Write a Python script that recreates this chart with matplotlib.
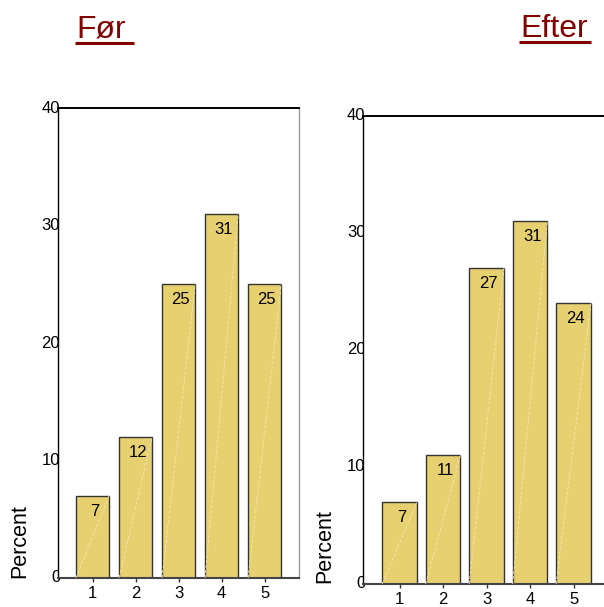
import matplotlib
matplotlib.use("Agg")
import matplotlib.pyplot as plt
from matplotlib.lines import Line2D
from matplotlib.transforms import blended_transform_factory, ScaledTranslation

plt.rcParams['font.family'] = ['Liberation Sans', 'DejaVu Sans']

categories = [1, 2, 3, 4, 5]
before_pct = [7, 12, 25, 31, 25]
after_pct = [7, 11, 27, 31, 24]
yticks = [0, 10, 20, 30, 40]
titles = ["Før", "Efter"]
ylabel = "Percent"

bar_color = '#E7D070'
title_color = '#800000'

fig = plt.figure(figsize=(6.04, 6.07), dpi=100)
ax1 = fig.add_axes([0.0955, 0.0478, 0.399, 0.774])
ax2 = fig.add_axes([0.601, 0.0379, 0.399, 0.771])


def draw_panel(ax, values, xlim, width, right_spine):
    bars = ax.bar(categories, values, width=width, color=bar_color,
                  edgecolor='#333333', linewidth=1.0, zorder=2)
    for bar, v in zip(bars, values):
        x0 = bar.get_x()
        # faint diagonal sheen inside each bar
        ax.plot([x0, x0 + bar.get_width()], [0, v], color='#F4E7B4',
                lw=0.6, ls=(0, (4, 2)), zorder=3)
        ax.annotate(f'{v}', xy=(x0 + bar.get_width() / 2, v),
                    xytext=(1.5, -11), textcoords='offset points',
                    ha='center', va='center', fontsize=12, zorder=4)
    ax.set_xlim(*xlim)
    ax.set_ylim(0, 40)
    ax.set_xticks(categories)
    ax.set_xticklabels([str(c) for c in categories], fontsize=12)
    ax.tick_params(axis='x', length=3, width=1, pad=2.5, color='#333333')
    ax.set_yticks([])
    ax.spines['left'].set_color('black')
    ax.spines['left'].set_linewidth(1.0)
    ax.spines['top'].set_color('black')
    ax.spines['top'].set_linewidth(1.4)
    ax.spines['bottom'].set_color('#444444')
    ax.spines['bottom'].set_linewidth(1.5)
    if right_spine:
        ax.spines['right'].set_color('#999999')
        ax.spines['right'].set_linewidth(1.0)
    else:
        ax.spines['right'].set_visible(False)

    # y labels drawn beneath the axes so the plot area clips them
    trans = blended_transform_factory(ax.transAxes, ax.transData) + \
        ScaledTranslation(0.025, 0, fig.dpi_scale_trans)
    for t in yticks:
        fig.text(0, t, str(t), transform=trans, ha='right', va='center',
                 fontsize=12, zorder=-1)


draw_panel(ax1, before_pct, (0.19, 5.79), 0.77, True)
draw_panel(ax2, after_pct, (0.16, 5.70), 0.80, False)

# rotated "Percent" labels, starting at the baseline of each panel
fig.text(20 / 604, 1 - 578 / 607, ylabel, rotation=90, ha='center',
         va='bottom', fontsize=15.5)
fig.text(325 / 604, 1 - 583 / 607, ylabel, rotation=90, ha='center',
         va='bottom', fontsize=15.5)

# underlined panel titles
title_pos = [(76 / 604, 1 - 38 / 607), (520 / 604, 1 - 37 / 607)]
underline_extra = [8, 3]
fig.canvas.draw()
renderer = fig.canvas.get_renderer()
for title, (tx, ty), extra in zip(titles, title_pos, underline_extra):
    t = fig.text(tx, ty, title, ha='left', va='baseline', fontsize=23,
                 color=title_color)
    bb = t.get_window_extent(renderer)
    W, H = fig.bbox.width, fig.bbox.height
    y_line = ty - 4.5 / H
    fig.add_artist(Line2D([(bb.x0 - 1) / W, (bb.x1 + extra) / W],
                          [y_line, y_line], transform=fig.transFigure,
                          color=title_color, lw=2.2, solid_capstyle='butt'))

fig.savefig('out.png', dpi=100)
